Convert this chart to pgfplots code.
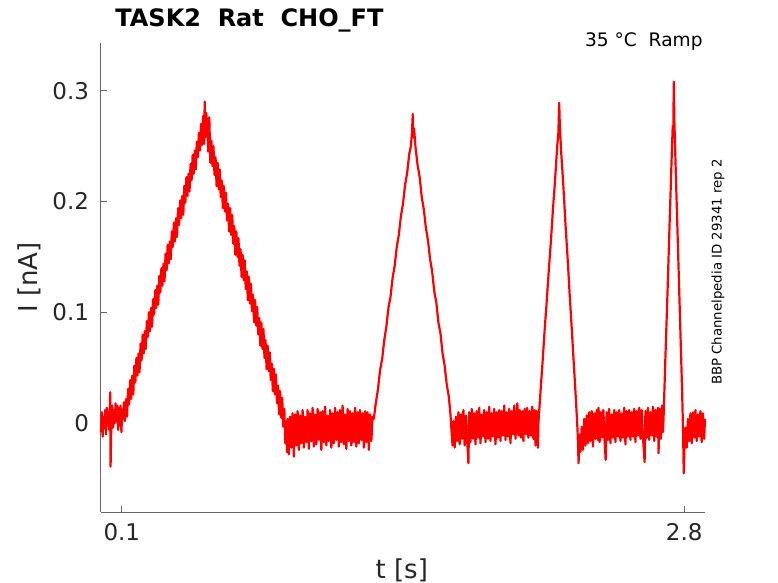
\documentclass[border=0pt]{standalone}
\usepackage{pgfplots}
\usepackage{pgfplotstable}
\pgfplotsset{compat=1.18}
\usepackage{fontspec}
\setmainfont{DejaVu Sans}
\setsansfont{DejaVu Sans}
\definecolor{axgray}{gray}{0.4}
\definecolor{txtgray}{gray}{0.15}

\pgfplotstableread{
t I
0.000 -0.008
0.004 0.010
0.008 -0.012
0.012 0.006
0.016 -0.004
0.020 0.012
0.024 -0.010
0.028 0.014
0.032 -0.002
0.036 0.010
0.040 -0.006
0.044 0.028
0.046 -0.039
0.050 0.004
0.054 0.016
0.058 -0.004
0.062 0.012
0.066 0.000
0.070 0.018
0.074 0.002
0.078 0.016
0.082 -0.006
0.086 0.014
0.090 -0.002
0.094 0.016
0.098 -0.008
0.102 0.012
0.106 0.004
0.110 0.019
0.115 0.002
0.120 0.022
0.125 0.006
0.130 0.031
0.135 0.017
0.140 0.039
0.145 0.022
0.150 0.043
0.155 0.026
0.160 0.052
0.165 0.037
0.170 0.059
0.175 0.043
0.180 0.063
0.185 0.046
0.190 0.072
0.195 0.057
0.200 0.080
0.205 0.063
0.210 0.083
0.215 0.067
0.220 0.092
0.225 0.078
0.230 0.100
0.235 0.083
0.240 0.104
0.245 0.087
0.250 0.112
0.255 0.098
0.260 0.120
0.265 0.104
0.270 0.124
0.275 0.107
0.280 0.133
0.285 0.118
0.290 0.140
0.295 0.124
0.300 0.144
0.305 0.128
0.310 0.153
0.315 0.138
0.320 0.161
0.325 0.144
0.330 0.164
0.335 0.148
0.340 0.173
0.345 0.159
0.350 0.181
0.355 0.164
0.360 0.185
0.365 0.168
0.370 0.194
0.375 0.179
0.380 0.201
0.385 0.185
0.390 0.205
0.395 0.188
0.400 0.214
0.405 0.199
0.410 0.222
0.415 0.205
0.420 0.225
0.425 0.209
0.430 0.234
0.435 0.219
0.440 0.242
0.445 0.225
0.450 0.246
0.455 0.229
0.460 0.254
0.465 0.240
0.470 0.262
0.475 0.246
0.480 0.270
0.485 0.251
0.490 0.277
0.495 0.252
0.498 0.290
0.501 0.258
0.505 0.280
0.510 0.270
0.515 0.245
0.520 0.276
0.525 0.235
0.530 0.255
0.535 0.232
0.540 0.250
0.545 0.224
0.550 0.240
0.555 0.214
0.560 0.235
0.565 0.211
0.570 0.229
0.575 0.204
0.580 0.219
0.585 0.194
0.590 0.214
0.595 0.191
0.600 0.208
0.605 0.183
0.610 0.198
0.615 0.173
0.620 0.194
0.625 0.170
0.630 0.188
0.635 0.162
0.640 0.178
0.645 0.152
0.650 0.173
0.655 0.150
0.660 0.167
0.665 0.142
0.670 0.157
0.675 0.132
0.680 0.152
0.685 0.129
0.690 0.147
0.695 0.121
0.700 0.137
0.705 0.111
0.710 0.132
0.715 0.108
0.720 0.126
0.725 0.101
0.730 0.116
0.735 0.091
0.740 0.111
0.745 0.088
0.750 0.105
0.755 0.080
0.760 0.095
0.765 0.070
0.770 0.091
0.775 0.067
0.780 0.085
0.785 0.059
0.790 0.075
0.795 0.049
0.800 0.070
0.805 0.047
0.810 0.064
0.815 0.039
0.820 0.054
0.825 0.029
0.830 0.049
0.835 0.026
0.840 0.044
0.845 0.018
0.850 0.034
0.855 0.008
0.860 0.029
0.865 0.005
0.870 0.023
0.875 -0.003
0.880 0.013
0.885 -0.018
0.890 0.002
0.893 -0.026
0.896 0.004
0.902 -0.028
0.908 0.006
0.914 -0.022
0.920 0.009
0.926 -0.030
0.932 0.008
0.938 -0.020
0.944 0.011
0.950 -0.024
0.956 0.007
0.962 -0.018
0.968 0.012
0.974 -0.022
0.980 0.006
0.986 -0.017
0.992 0.012
0.998 -0.023
1.004 0.009
1.010 -0.016
1.016 0.014
1.022 -0.021
1.028 0.008
1.034 -0.019
1.040 0.013
1.046 -0.015
1.052 0.010
1.058 -0.024
1.064 0.011
1.070 -0.017
1.076 0.015
1.082 -0.020
1.088 0.007
1.094 -0.016
1.100 0.012
1.106 -0.022
1.112 0.009
1.118 -0.018
1.124 0.014
1.130 -0.015
1.136 0.010
1.142 -0.021
1.148 0.012
1.154 -0.017
1.160 0.016
1.166 -0.019
1.172 0.008
1.178 -0.023
1.184 0.013
1.190 -0.016
1.196 0.011
1.202 -0.020
1.208 0.009
1.214 -0.017
1.220 0.014
1.226 -0.021
1.232 0.010
1.238 -0.018
1.244 0.012
1.250 -0.015
1.256 0.009
1.262 -0.022
1.268 0.011
1.274 -0.017
1.280 0.010
1.286 -0.024
1.292 0.008
1.298 -0.016
1.304 0.006
1.310 0.004
1.320 0.019
1.330 0.031
1.340 0.048
1.350 0.058
1.360 0.075
1.370 0.087
1.380 0.104
1.390 0.114
1.400 0.131
1.410 0.142
1.420 0.159
1.430 0.170
1.440 0.187
1.450 0.198
1.460 0.215
1.470 0.226
1.480 0.243
1.488 0.250
1.493 0.262
1.497 0.279
1.500 0.258
1.503 0.266
1.510 0.249
1.520 0.233
1.530 0.222
1.540 0.204
1.550 0.193
1.560 0.176
1.570 0.165
1.580 0.148
1.590 0.137
1.600 0.119
1.610 0.109
1.620 0.091
1.630 0.081
1.640 0.063
1.650 0.052
1.660 0.035
1.670 0.024
1.678 0.008
1.684 -0.010
1.688 -0.020
1.692 0.002
1.698 -0.022
1.704 0.006
1.710 -0.016
1.716 0.010
1.722 -0.019
1.728 0.008
1.734 -0.014
1.740 0.012
1.746 -0.020
1.752 0.007
1.758 -0.015
1.764 -0.036
1.768 0.010
1.774 -0.017
1.780 0.013
1.786 -0.014
1.792 0.009
1.798 -0.019
1.804 0.011
1.810 -0.013
1.816 0.014
1.822 -0.018
1.828 0.008
1.834 -0.012
1.840 0.012
1.846 -0.017
1.852 0.010
1.858 -0.014
1.864 0.015
1.870 -0.016
1.876 0.009
1.882 -0.012
1.888 0.013
1.894 -0.019
1.900 0.010
1.906 -0.013
1.912 0.012
1.918 -0.016
1.924 0.011
1.930 -0.011
1.936 0.016
1.942 -0.015
1.948 0.010
1.954 -0.012
1.960 0.013
1.966 -0.018
1.972 0.011
1.978 -0.010
1.984 0.016
1.990 -0.014
1.999 0.018
2.004 -0.011
2.010 0.012
2.016 -0.013
2.022 0.011
2.028 -0.016
2.034 0.013
2.040 -0.010
2.046 0.014
2.052 -0.013
2.058 0.011
2.064 -0.011
2.070 0.015
2.076 -0.014
2.082 0.012
2.086 -0.020
2.092 0.011
2.098 -0.022
2.100 0.000
2.110 0.028
2.120 0.055
2.130 0.084
2.140 0.110
2.150 0.138
2.160 0.164
2.170 0.193
2.180 0.219
2.190 0.249
2.196 0.262
2.200 0.289
2.203 0.268
2.210 0.243
2.220 0.214
2.230 0.180
2.240 0.150
2.250 0.117
2.260 0.086
2.270 0.054
2.280 0.022
2.288 -0.006
2.293 -0.036
2.297 -0.010
2.302 -0.026
2.308 -0.003
2.314 -0.024
2.320 0.004
2.326 -0.020
2.332 0.007
2.338 -0.018
2.344 0.010
2.350 -0.016
2.356 0.011
2.362 -0.021
2.368 0.009
2.374 -0.014
2.380 0.012
2.386 -0.015
2.389 0.014
2.394 -0.017
2.400 0.010
2.406 -0.013
2.412 0.012
2.418 -0.016
2.423 -0.033
2.428 0.010
2.434 -0.015
2.440 0.013
2.446 -0.018
2.452 0.008
2.458 -0.013
2.464 0.012
2.470 -0.017
2.476 0.010
2.482 -0.012
2.488 0.012
2.494 -0.016
2.500 0.009
2.506 -0.013
2.512 0.014
2.518 -0.019
2.524 0.011
2.530 -0.012
2.536 0.012
2.542 -0.015
2.548 0.010
2.554 -0.012
2.560 0.013
2.566 -0.017
2.572 0.011
2.578 -0.011
2.584 0.014
2.590 -0.014
2.596 0.012
2.602 -0.012
2.610 -0.035
2.614 0.011
2.620 -0.013
2.626 0.014
2.632 -0.015
2.638 0.010
2.644 -0.011
2.650 0.015
2.656 -0.016
2.662 0.012
2.668 -0.012
2.674 0.014
2.677 -0.027
2.682 0.013
2.688 -0.014
2.694 0.016
2.698 -0.008
2.701 0.005
2.710 0.060
2.720 0.118
2.730 0.180
2.740 0.240
2.745 0.268
2.748 0.260
2.750 0.308
2.753 0.272
2.760 0.225
2.770 0.160
2.780 0.095
2.790 0.030
2.795 -0.010
2.798 -0.045
2.802 -0.018
2.806 -0.004
2.812 -0.022
2.818 0.004
2.824 -0.016
2.830 0.009
2.836 -0.018
2.842 0.010
2.848 -0.013
2.854 0.012
2.860 -0.016
2.866 0.008
2.872 -0.012
2.878 0.011
2.884 -0.017
2.890 0.009
2.896 -0.014
2.900 0.004
}\trace

\begin{document}
\begin{tikzpicture}
\useasboundingbox (-50.5bp,-35.5bp) rectangle (338.5bp,256bp);
\begin{axis}[
  scale only axis,
  width=302bp, height=234.5bp,
  xmin=0, xmax=2.9,
  ymin=-0.08, ymax=0.343,
  axis x line*=bottom,
  axis y line*=left,
  axis line style={-, draw=axgray, line width=0.5bp},
  tick align=inside,
  major tick length=3bp,
  tick style={draw=axgray, line width=0.5bp},
  xtick={0.1,2.8},
  xticklabels={0.1,2.8},
  ytick={0,0.1,0.2,0.3},
  yticklabels={0,0.1,0.2,0.3},
  /pgf/number format/assume math mode=true,
  ticklabel style={font=\fontsize{11.5bp}{13bp}\selectfont, text=txtgray},
  xticklabel style={yshift=-2bp},
  yticklabel style={xshift=-2.5bp},
  xlabel={t [s]},
  ylabel={I [nA]},
  label style={font=\fontsize{13bp}{15bp}\selectfont, text=txtgray},
  xlabel style={at={(axis description cs:0.498,-0.124)}, anchor=center},
  ylabel style={at={(axis description cs:-0.119,0.5)}, anchor=center},
  clip=false,
]
\addplot[red, line width=1.1bp, line join=round] table[x=t, y=I] {\trace};
\end{axis}
\node[anchor=base west, font=\bfseries\fontsize{12bp}{14bp}\selectfont, inner sep=0pt] at (7bp,242.5bp) {TASK2\ \ Rat\ \ CHO\_FT};
\node[anchor=base east, font=\fontsize{9.3bp}{11bp}\selectfont, inner sep=0pt] at (301bp,232.5bp) {35 °C\ \ Ramp};
\node[rotate=90, anchor=center, font=\fontsize{6.65bp}{8bp}\selectfont, inner sep=0pt] at (308.5bp,120bp) {BBP Channelpedia ID 29341 rep 2};
\end{tikzpicture}
\end{document}
